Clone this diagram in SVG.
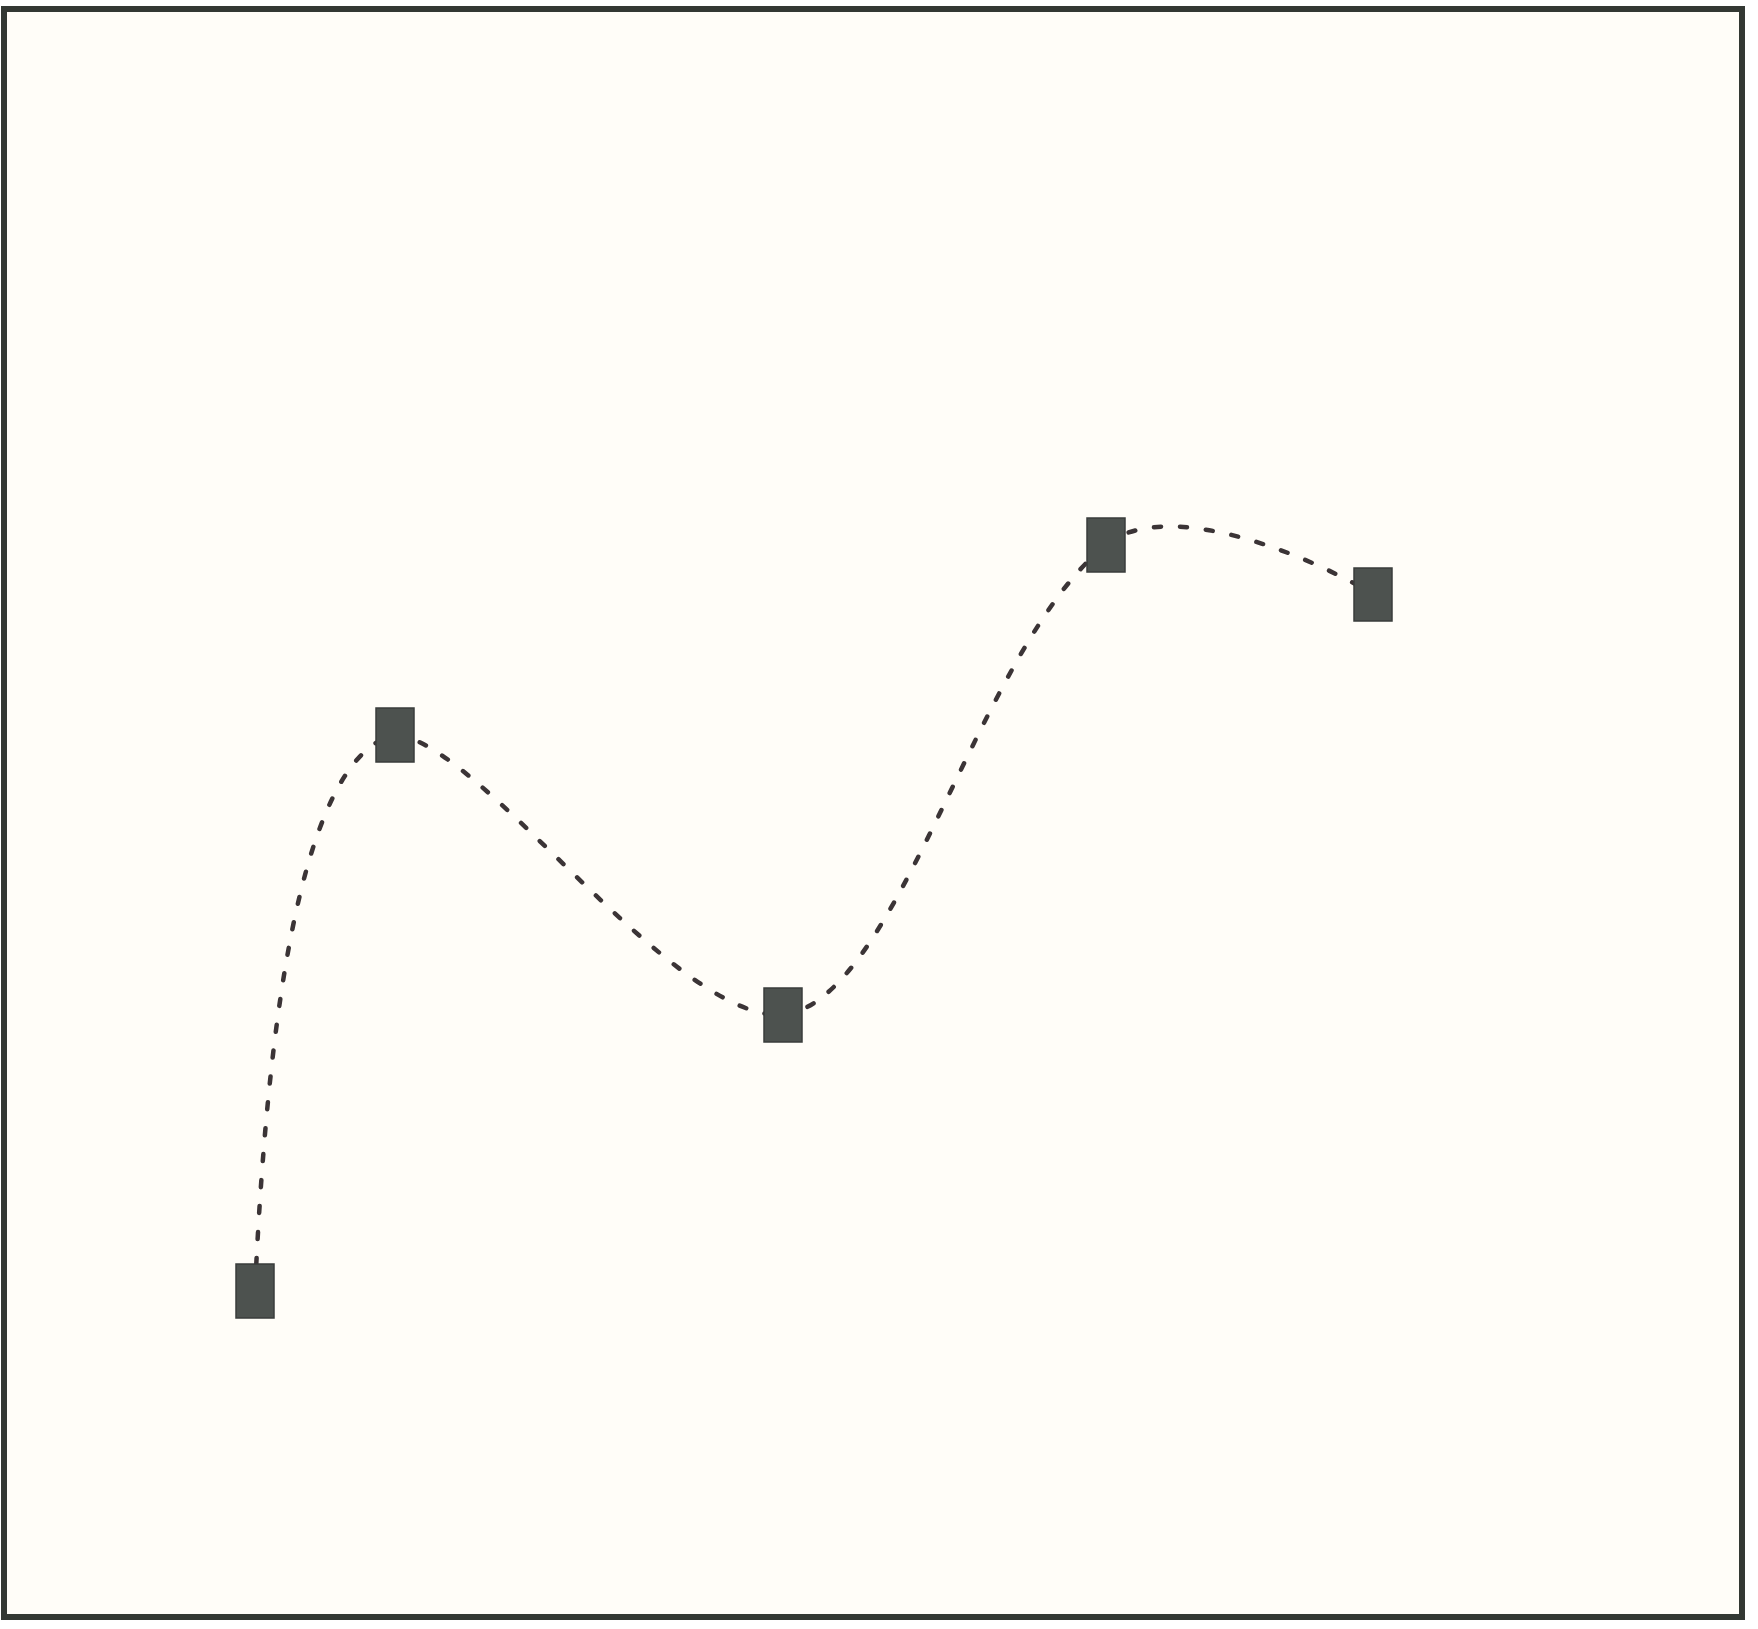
<svg xmlns="http://www.w3.org/2000/svg" width="1758" height="1629" viewBox="0 0 1758 1629">
  <style>
    .frame { fill: #fffdf8; stroke: #333833; stroke-width: 6; }
    .node { fill: #4d524f; stroke: #3a3d3b; stroke-width: 1.5; }
    .edge { fill: none; stroke: #3b3436; stroke-width: 4.5; stroke-dasharray: 7 19; stroke-linecap: round; }
  </style>
  <rect class="frame" x="4" y="9" width="1738" height="1608"/>
  <g id="connectors">
    <path class="edge" d="M 255 1291 C 268 1000 305 755 395 735"/>
    <path class="edge" d="M 395 735 C 480 740 670 1020 783 1015"/>
    <path class="edge" d="M 783 1015 C 900 1000 977 648 1106 545"/>
    <path class="edge" d="M 1106 545 C 1160 500 1290 545 1373 594"/>
  </g>
  <g id="node1"><rect class="node" x="236" y="1264" width="38" height="54"/></g>
  <g id="node2"><rect class="node" x="376" y="708" width="38" height="54"/></g>
  <g id="node3"><rect class="node" x="764" y="988" width="38" height="54"/></g>
  <g id="node4"><rect class="node" x="1087" y="518" width="38" height="54"/></g>
  <g id="node5"><rect class="node" x="1354" y="568" width="38" height="53"/></g>
</svg>
